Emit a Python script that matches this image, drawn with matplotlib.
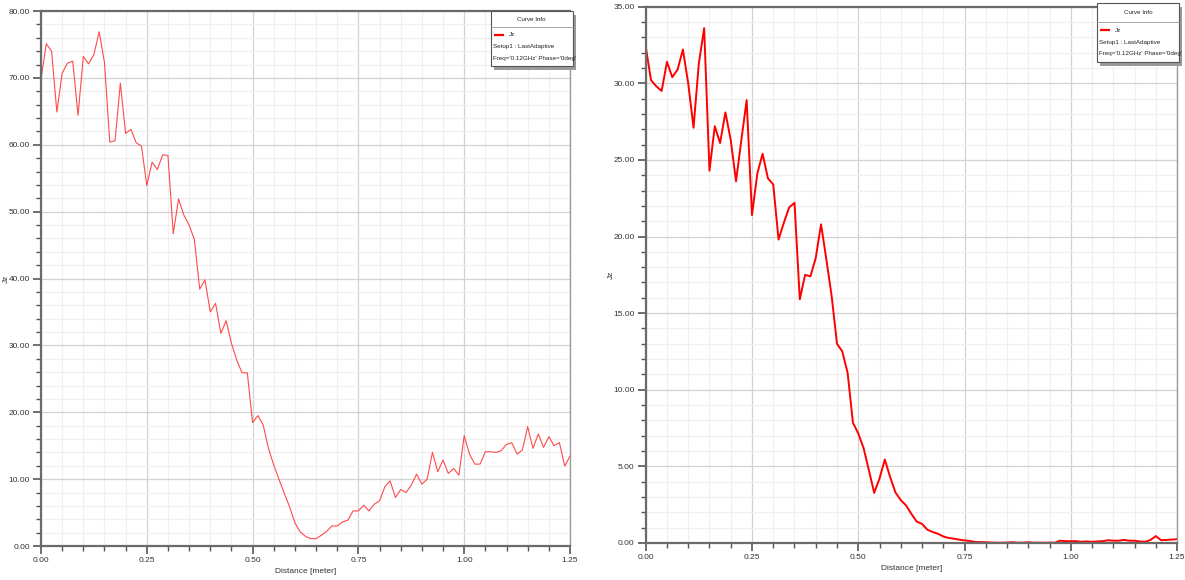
"""Two HFSS-style Jz line plots side by side."""

import numpy as np
import matplotlib
matplotlib.use("Agg")
import matplotlib.pyplot as plt
from matplotlib.patches import Rectangle
from matplotlib.ticker import MultipleLocator, FormatStrFormatter

FONT = ["Liberation Sans Narrow", "Liberation Sans", "DejaVu Sans"]
plt.rcParams["font.family"] = FONT

# distance samples (0 .. 1.25 m, step 0.0125)
dist = np.linspace(0.0, 1.25, 101)

jz_left = [
    69.8, 75.1, 74.0, 64.9, 70.7, 72.2, 72.5, 64.4, 73.2, 72.1,
    73.5, 76.9, 72.3, 60.4, 60.6, 69.2, 61.7, 62.3, 60.3, 59.8,
    53.9, 57.4, 56.3, 58.5, 58.4, 46.7, 51.9, 49.5, 48.0, 45.8,
    38.4, 39.8, 35.0, 36.3, 31.8, 33.7, 30.3, 27.8, 25.9, 25.9,
    18.45, 19.5, 18.1, 14.6, 12.1, 9.95, 7.85, 5.85, 3.45, 2.1,
    1.45, 1.1, 1.1, 1.6, 2.2, 3.0, 3.0, 3.6, 3.85, 5.25,
    5.25, 6.1, 5.25, 6.25, 6.75, 8.85, 9.75, 7.25, 8.45, 8.0,
    9.1, 10.75, 9.25, 10.0, 14.0, 11.1, 12.85, 10.85, 11.6, 10.6,
    16.5, 13.75, 12.25, 12.25, 14.1, 14.1, 14.0, 14.25, 15.2, 15.45,
    13.75, 14.35, 17.85, 14.6, 16.75, 14.75, 16.35, 15.0, 15.45, 11.95,
    13.45,
]

jz_right = [
    32.4, 30.2, 29.8, 29.5, 31.4, 30.4, 30.9, 32.2, 30.0, 27.1,
    31.3, 33.6, 24.3, 27.2, 26.1, 28.1, 26.3, 23.6, 26.3, 28.9,
    21.4, 24.1, 25.4, 23.8, 23.4, 19.8, 20.9, 21.9, 22.2, 15.9,
    17.5, 17.4, 18.6, 20.8, 18.5, 16.1, 13.0, 12.5, 11.1, 7.85,
    7.15, 6.2, 4.75, 3.27, 4.2, 5.45, 4.3, 3.3, 2.8, 2.45,
    1.9, 1.4, 1.25, 0.87, 0.72, 0.6, 0.43, 0.33, 0.28, 0.22,
    0.17, 0.13, 0.07, 0.06, 0.05, 0.03, 0.02, 0.02, 0.03, 0.05,
    0.02, 0.02, 0.05, 0.02, 0.02, 0.02, 0.03, 0.02, 0.15, 0.12,
    0.12, 0.12, 0.08, 0.1, 0.08, 0.1, 0.12, 0.18, 0.15, 0.15,
    0.2, 0.15, 0.15, 0.1, 0.08, 0.2, 0.45, 0.18, 0.2, 0.22,
    0.25,
]

legend_lines = ["Jz", "Setup1 : LastAdaptive", "Freq='0.12GHz' Phase='0deg'"]

SPINE = "#6a6a6a"
MAJ_GRID = "#d2d2d2"
MIN_GRID = "#f0f0f0"

fig = plt.figure(figsize=(11.85, 5.8), dpi=100)
fig.patch.set_facecolor("white")

ax1 = fig.add_axes([0.0346, 0.0586, 0.4464, 0.9224])
ax2 = fig.add_axes([0.5449, 0.0638, 0.4484, 0.9247])


def style(ax, ymax, ymaj, ymin):
    ax.set_xlim(0, 1.25)
    ax.set_ylim(0, ymax)
    ax.xaxis.set_major_locator(MultipleLocator(0.25))
    ax.xaxis.set_minor_locator(MultipleLocator(0.05))
    ax.yaxis.set_major_locator(MultipleLocator(ymaj))
    ax.yaxis.set_minor_locator(MultipleLocator(ymin))
    ax.xaxis.set_major_formatter(FormatStrFormatter("%.2f"))
    ax.yaxis.set_major_formatter(FormatStrFormatter("%.2f"))
    ax.grid(True, which="major", color=MAJ_GRID, lw=0.9)
    ax.grid(True, which="minor", color=MIN_GRID, lw=0.9)
    ax.set_axisbelow(True)
    for s in ax.spines.values():
        s.set_color(SPINE)
        s.set_linewidth(1.6)
    ax.spines["right"].set_linewidth(1.0)
    ax.spines["right"].set_color("#9a9a9a")
    ax.tick_params(which="major", length=6, width=1.2, color="#555555",
                   labelsize=6, labelcolor="#333333", pad=2)
    ax.tick_params(which="minor", length=3.5, width=1.0, color="#555555")
    ax.tick_params(top=False, right=False, which="both")
    ax.set_xlabel("Distance [meter]", fontsize=6, color="#333333", labelpad=3)
    ax.set_ylabel("Jz", fontsize=6, color="#333333", labelpad=-1)


def curve_info(ax, x0, x1, y0, y1, ysep, color, lw):
    tr = ax.transAxes
    # shadow then box
    ax.add_patch(Rectangle((x0 + 0.006, y0 - 0.008), x1 - x0, y1 - y0,
                           transform=tr, facecolor="#9a9a9a", edgecolor="none",
                           clip_on=False, zorder=8))
    ax.add_patch(Rectangle((x0, y0), x1 - x0, y1 - y0, transform=tr,
                           facecolor="white", edgecolor="#555555", lw=0.8,
                           clip_on=False, zorder=9))
    ax.plot([x0, x1], [ysep, ysep], transform=tr, color="#999999", lw=0.6,
            clip_on=False, zorder=10)
    h = (ysep - y0)
    fs = 4.5
    ax.text((x0 + x1) / 2, (ysep + y1) / 2, "Curve Info", transform=tr,
            ha="center", va="center", fontsize=fs, color="#222222", zorder=11)
    ly = ysep - h * 0.2
    ax.plot([x0 + 0.006, x0 + 0.025], [ly, ly], transform=tr, color=color,
            lw=lw, clip_on=False, zorder=11, solid_capstyle="butt")
    ax.text(x0 + 0.034, ly, legend_lines[0], transform=tr, ha="left",
            va="center", fontsize=fs, color="#222222", zorder=11)
    ax.text(x0 + 0.005, ysep - h * 0.5, legend_lines[1], transform=tr,
            ha="left", va="center", fontsize=fs, color="#222222", zorder=11)
    ax.text(x0 + 0.005, ysep - h * 0.8, legend_lines[2], transform=tr,
            ha="left", va="center", fontsize=fs, color="#222222", zorder=11)


style(ax1, 80, 10, 2)
ax1.plot(dist, jz_left, color="#ff4a4a", lw=0.8)
curve_info(ax1, 0.850, 1.005, 0.897, 1.0, 0.970, "#ff0000", 1.6)

style(ax2, 35, 5, 1)
ax2.plot(dist, jz_right, color="#ff0000", lw=1.4)
curve_info(ax2, 0.849, 1.004, 0.897, 1.007, 0.971, "#ff0000", 1.6)

fig.savefig("out.png", dpi=100, facecolor="white")
